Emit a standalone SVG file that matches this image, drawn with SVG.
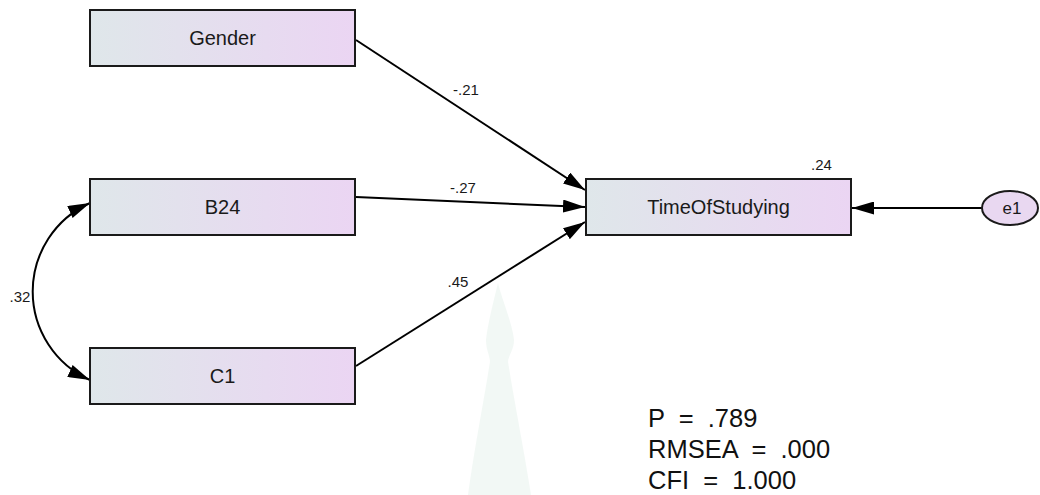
<svg xmlns="http://www.w3.org/2000/svg" width="1040" height="495" viewBox="0 0 1040 495">
<style>
.box{fill:url(#g);stroke:#1a1a1a;stroke-width:2}
.lbl{font-family:"Liberation Sans",Arial,sans-serif;font-size:20px;fill:#1a1a1a;text-anchor:middle}
.num{font-family:"Liberation Sans",Arial,sans-serif;font-size:15px;fill:#1a1a1a;text-anchor:middle}
.fit{font-family:"Liberation Sans",Arial,sans-serif;font-size:25.5px;fill:#111}
.ln{fill:none;stroke:#000;stroke-width:2;marker-end:url(#arr)}
</style>
<defs>
<linearGradient id="g" x1="0" y1="0" x2="1" y2="0">
<stop offset="0" stop-color="#dfe7ea"/>
<stop offset="1" stop-color="#ebd5f3"/>
</linearGradient>
<marker id="arr" viewBox="0 0 22 13" refX="22" refY="6.5" markerWidth="22" markerHeight="13" markerUnits="userSpaceOnUse" orient="auto-start-reverse">
<path d="M0,0 L22,6.5 L0,13 z" fill="#000"/>
</marker>
</defs>
<rect width="1040" height="495" fill="#fff"/>
<path d="M498,283 C502,300 512,322 514,340 C514,350 508,356 508,362 C514,400 524,450 531,495 L468,495 C474,450 484,400 490,362 C490,356 486,350 486,340 C488,322 494,300 498,283 z" fill="#e6f1ec" opacity="0.5"/>
<g id="connectors">
<line class="ln" x1="356" y1="40" x2="585" y2="190"/>
<line class="ln" x1="356" y1="197" x2="585" y2="207"/>
<line class="ln" x1="356" y1="366" x2="585" y2="222"/>
<line class="ln" x1="982" y1="208" x2="852" y2="208"/>
<path d="M90,203 A97,97 0 0,0 90,380" fill="none" stroke="#000" stroke-width="2" marker-start="url(#arr)" marker-end="url(#arr)"/>
<text class="num" x="466" y="95">-.21</text>
<text class="num" x="463" y="193">-.27</text>
<text class="num" x="458" y="287">.45</text>
<text class="num" x="20" y="302">.32</text>
</g>
<g id="Gender">
<rect class="box" x="90" y="10" width="265" height="56"/>
<text class="lbl" x="222.5" y="45">Gender</text>
</g>
<g id="B24">
<rect class="box" x="90" y="179" width="265" height="56"/>
<text class="lbl" x="222.5" y="214">B24</text>
</g>
<g id="C1">
<rect class="box" x="90" y="348" width="265" height="56"/>
<text class="lbl" x="222.5" y="383">C1</text>
</g>
<g id="TimeOfStudying">
<rect class="box" x="586" y="179" width="265" height="56"/>
<text class="lbl" x="718.5" y="214">TimeOfStudying</text>
<text class="num" x="821.5" y="170">.24</text>
</g>
<g id="e1">
<ellipse cx="1010" cy="208" rx="28" ry="17" fill="#e9d8f1" stroke="#1a1a1a" stroke-width="2"/>
<text class="lbl" x="1012" y="214" style="font-size:17px">e1</text>
</g>
<g id="fit">
<text class="fit" x="648" y="427" xml:space="preserve">P  =  .789</text>
<text class="fit" x="648" y="458" xml:space="preserve">RMSEA  =  .000</text>
<text class="fit" x="648" y="489" xml:space="preserve">CFI  =  1.000</text>
</g>
</svg>
